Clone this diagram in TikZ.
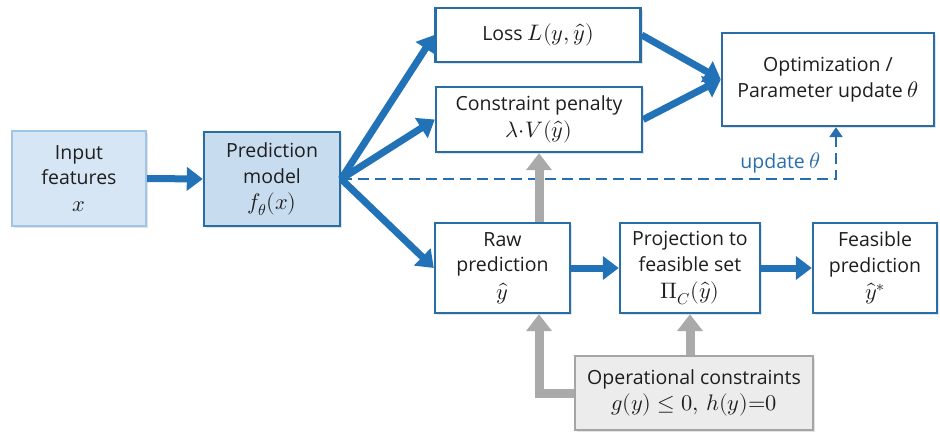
\documentclass[tikz,border=0pt]{standalone}
\usepackage{fontspec}
\usepackage{unicode-math}
\setmainfont{Open Sans}
\setmathfont{Latin Modern Math}[Scale=1.15]
\usetikzlibrary{arrows.meta,shadows,calc}
\definecolor{arrblue}{RGB}{34,114,184}
\definecolor{bordblue}{RGB}{40,110,165}
\definecolor{infill}{RGB}{214,230,244}
\definecolor{inbord}{RGB}{160,196,228}
\definecolor{pmfill}{RGB}{200,220,240}
\definecolor{grayarr}{RGB}{170,170,170}
\definecolor{opsfill}{RGB}{236,236,236}
\definecolor{opsbord}{RGB}{165,165,165}
\definecolor{dashblue}{RGB}{40,110,175}
\definecolor{txt}{RGB}{30,30,30}
\begin{document}
\begin{tikzpicture}[x=1pt,y=-1pt,
  every node/.style={font=\fontsize{19.5}{25.5}\selectfont, text=txt, align=center, inner sep=0pt},
  box/.style={draw=bordblue, line width=2.4pt, fill=white, rectangle,
     drop shadow={shadow xshift=2pt, shadow yshift=-2pt, opacity=0.22}},
  bluearrow/.style={draw=arrblue, line width=7pt, -{Triangle[length=16pt,width=23pt]}},
  grayarrow/.style={draw=grayarr, line width=9pt, -{Triangle[length=17pt,width=25pt]}},
  dasharrow/.style={draw=dashblue, line width=2.8pt, dash pattern=on 11pt off 6pt, -{Triangle[length=10pt,width=13pt]}}
]
\useasboundingbox (0,0) rectangle (940,436);
\node[box, draw=inbord, fill=infill, minimum width=134pt, minimum height=95pt] (in) at (79,178.5) {Input\\features\\[1pt]$x$};
\node[box, fill=pmfill, minimum width=136pt, minimum height=94pt] (pm) at (272,179) {Prediction\\model\\[1pt]$f_\theta(x)$};
\node[box, minimum width=205pt, minimum height=54pt] (loss) at (538,35) {Loss $L(y,\hat{y})$};
\node[box, minimum width=206pt, minimum height=65pt] (pen) at (539,119.5) {Constraint penalty\\[2pt]$\lambda{\cdot}V(\hat{y})$};
\node[box, minimum width=212pt, minimum height=93pt] (opt) at (828,79.5) {Optimization /\\Parameter update $\theta$};
\node[box, minimum width=135pt, minimum height=90pt] (raw) at (502.5,268) {Raw\\prediction\\[2pt]$\hat{y}$};
\node[box, minimum width=140pt, minimum height=90pt] (proj) at (690,268) {Projection to\\feasible set\\[2pt]$\Pi_C(\hat{y})$};
\node[box, minimum width=124pt, minimum height=90pt] (feas) at (875,268) {Feasible\\prediction\\[2pt]$\hat{y}^{*}$};
\node[box, draw=opsbord, fill=opsfill, minimum width=238pt, minimum height=74pt] (ops) at (694,393) {Operational constraints\\[1pt]$g(y)\le 0,\, h(y){=}0$};

\coordinate (fan) at (pm.east);
\coordinate (upd) at ([xshift=8pt]opt.south);
% dashed update
\draw[dasharrow] (fan) -- (fan -| upd) -- (upd);
\node[text=dashblue, anchor=east] (updlbl) at (821,163) {update $\theta$};
% gray arrows
\draw[grayarrow] (ops.west) -| (raw.south -| pen.south);
\draw[grayarrow] (ops.north -| proj.south) -- (proj.south);
\draw[grayarrow] (raw.north -| pen.south) -- (pen.south);
% blue arrows
\draw[bluearrow] (in.east) -- (pm.west);
\draw[bluearrow] (fan) -- (loss.west);
\draw[bluearrow] (fan) -- (pen.west);
\draw[bluearrow] (fan) -- (raw.west);
\draw[bluearrow] (loss.east) -- (opt.west);
\draw[bluearrow] (pen.east) -- (opt.west);
\draw[bluearrow] (raw.east) -- (proj.west);
\draw[bluearrow] (proj.east) -- (feas.west);
\end{tikzpicture}
\end{document}
